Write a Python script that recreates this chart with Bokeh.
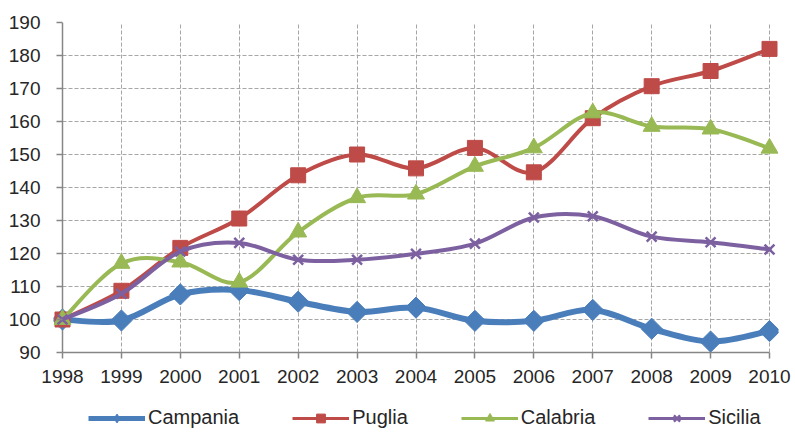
from bokeh.plotting import figure
from bokeh.models import Range1d, ColumnDataSource, Legend, LegendItem, FixedTicker, Span
from bokeh.layouts import column
from bokeh.embed import file_html
from bokeh.resources import INLINE
import math

years = [1998, 1999, 2000, 2001, 2002, 2003, 2004, 2005, 2006, 2007, 2008, 2009, 2010]
campania = [100, 99.7, 107.6, 108.9, 105.4, 102.3, 103.6, 99.6, 99.6, 102.9, 97.2, 93.3, 96.5]
puglia = [100, 108.7, 121.7, 130.6, 143.7, 150.0, 145.8, 152.0, 144.6, 161.0, 170.7, 175.3, 182.0]
calabria = [100, 117.0, 117.4, 111.3, 126.5, 136.9, 138.0, 146.4, 152.0, 162.6, 158.5, 157.7, 151.9]
sicilia = [100, 107.8, 120.6, 123.2, 118.1, 118.1, 119.9, 123.0, 130.9, 131.3, 125.1, 123.4, 121.2]
series_names = ["Campania", "Puglia", "Calabria", "Sicilia"]
y_ticks = [90, 100, 110, 120, 130, 140, 150, 160, 170, 180, 190]

FONT = "Liberation Sans"
TXT = "#262626"
AXIS = "#868686"

# plot area geometry (pixels)
DATA_W = 707          # width between first and last year
PAD = 9               # extra frame room so edge markers are not clipped
per_year = DATA_W / (years[-1] - years[0])
pad_years = PAD / per_year

p = figure(width=795, height=395, output_backend="svg", toolbar_location=None,
           x_range=Range1d(years[0] - pad_years, years[-1] + pad_years),
           y_range=Range1d(y_ticks[0], y_ticks[-1]),
           min_border_left=53, min_border_right=17, min_border_top=22, min_border_bottom=43)
p.outline_line_color = None
p.background_fill_color = "white"

for ax in (p.xaxis[0], p.yaxis[0]):
    ax.major_tick_line_color = AXIS
    ax.major_tick_line_width = 1.5
    ax.minor_tick_line_color = None
    ax.major_label_text_font = FONT
    ax.major_label_text_font_size = "19px"
    ax.major_label_text_color = TXT

xa = p.xaxis[0]
xa.ticker = FixedTicker(ticks=years)
xa.bounds = (years[0], years[-1])
xa.axis_line_color = AXIS
xa.axis_line_width = 1.5
xa.major_tick_out = 6
xa.major_tick_in = 0
xa.major_label_standoff = 11

ya = p.yaxis[0]
ya.ticker = FixedTicker(ticks=y_ticks)
ya.axis_line_color = None
ya.major_tick_in = PAD
ya.major_tick_out = 6 - PAD
ya.major_label_standoff = 13

yline = Span(location=years[0], dimension="height", line_color=AXIS, line_width=1.5,
             level="underlay")
p.add_layout(yline)

for g in (p.xgrid[0], p.ygrid[0]):
    g.grid_line_color = "#a6a6a6"
    g.grid_line_dash = "4 2"
    g.grid_line_width = 1
p.xgrid[0].ticker = FixedTicker(ticks=years[1:])
p.ygrid[0].ticker = FixedTicker(ticks=y_ticks[1:])
try:
    p.ygrid[0].cross_bounds = (years[0], years[-1])
except Exception:
    pass


def bezier_source(xs, ys):
    n = len(xs)
    d = dict(x0=[], y0=[], x1=[], y1=[], cx0=[], cy0=[], cx1=[], cy1=[])
    for i in range(n - 1):
        im = max(i - 1, 0)
        ip2 = min(i + 2, n - 1)
        d["x0"].append(xs[i]); d["y0"].append(ys[i])
        d["x1"].append(xs[i + 1]); d["y1"].append(ys[i + 1])
        d["cx0"].append(xs[i] + (xs[i + 1] - xs[im]) / 6.0)
        d["cy0"].append(ys[i] + (ys[i + 1] - ys[im]) / 6.0)
        d["cx1"].append(xs[i + 1] - (xs[ip2] - xs[i]) / 6.0)
        d["cy1"].append(ys[i + 1] - (ys[ip2] - ys[i]) / 6.0)
    return ColumnDataSource(d)


styles = [
    dict(color="#4A7EBB", lw=6, marker="square", size=15, angle=math.pi / 4, mlw=1, lmarker="diamond"),
    dict(color="#BE4B48", lw=4, marker="square", size=15, angle=0, mlw=1, lmarker="square"),
    dict(color="#98B954", lw=4, marker="triangle", size=17, angle=0, mlw=1, lmarker="triangle"),
    dict(color="#7D60A0", lw=4, marker="x", size=14, angle=0, mlw=2.5, lmarker="x"),
]
data = [campania, puglia, calabria, sicilia]

for vals, st in zip(data, styles):
    p.bezier(x0="x0", y0="y0", x1="x1", y1="y1", cx0="cx0", cy0="cy0", cx1="cx1", cy1="cy1",
             source=bezier_source(years, vals), line_color=st["color"], line_width=st["lw"],
             line_cap="round")
    p.scatter(years, vals, marker=st["marker"], size=st["size"], angle=st["angle"],
              fill_color=st["color"], line_color=st["color"], line_width=st["mlw"])

# legend strip below the chart
lf = figure(width=795, height=39, output_backend="svg", toolbar_location=None,
            x_range=Range1d(0, 1), y_range=Range1d(0, 1),
            min_border_left=0, min_border_right=0, min_border_top=0, min_border_bottom=0)
lf.axis.visible = False
lf.grid.visible = False
lf.outline_line_color = None

nan = float("nan")
items = []
for name, st in zip(series_names, styles):
    lg = lf.line([nan], [nan], line_color=st["color"], line_width=st["lw"] * 0.8)
    lsc = lf.scatter([nan], [nan], marker=st["lmarker"], size=st["size"],
                     fill_color=st["color"], line_color=st["color"], line_width=st["mlw"])
    items.append(LegendItem(label=name, renderers=[lg, lsc]))

legend = Legend(items=items, orientation="horizontal", location=(35, 5),
                glyph_width=57, glyph_height=22, label_standoff=3, spacing=53,
                padding=0, margin=0, border_line_color=None, background_fill_alpha=0,
                label_text_font=FONT, label_text_font_size="20px", label_text_color=TXT,
                label_height=22)
lf.add_layout(legend, "center")

open("out.html", "w").write(file_html(column(p, lf, spacing=0), INLINE))
